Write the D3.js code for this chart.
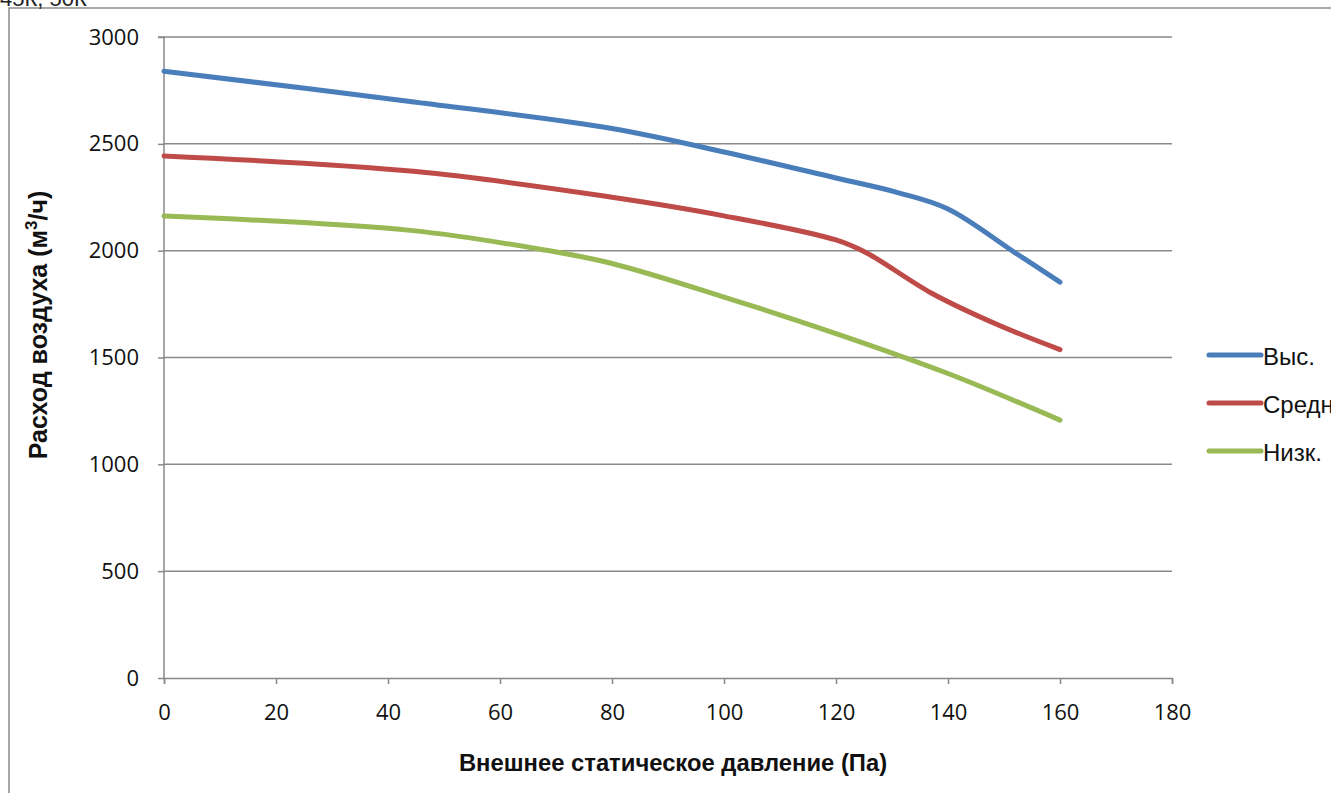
<!DOCTYPE html>
<html><head><meta charset="utf-8">
<script src="https://cdn.jsdelivr.net/npm/d3@7"></script>
<style>
html,body{margin:0;padding:0;background:#fff;overflow:hidden;}
svg{display:block;}
</style></head>
<body>
<svg id="chart" width="1331" height="793"></svg>
<script>
const seriesNames = ["Выс.", "Средн.", "Низк."];
const seriesColors = ["#4a7ebb", "#be4b48", "#98b954"];
const highPressure = [0, 45, 80, 100, 120, 131, 140, 152, 160];
const highFlow = [2840, 2695, 2572, 2462, 2340, 2272, 2195, 1990, 1853];
const midPressure = [0, 45, 80, 100, 120, 125.5, 137, 149, 160];
const midFlow = [2443, 2370, 2250, 2163, 2050, 1989, 1802, 1652, 1537];
const lowPressure = [0, 44, 68, 80, 100, 120, 140, 160];
const lowFlow = [2162, 2095, 2003, 1940, 1783, 1612, 1425, 1207];
const xTicks = [0, 20, 40, 60, 80, 100, 120, 140, 160, 180];
const yTicks = [0, 500, 1000, 1500, 2000, 2500, 3000];
const headerText = "45К, 50К";
const xTitle = "Внешнее статическое давление (Па)";
const yTitleMain = "Расход воздуха (м";
const yTitleSup = "3";
const yTitleEnd = "/ч)";

const svg = d3.select("#chart");
const x = d3.scaleLinear().domain([0, 180]).range([164, 1172]);
const y = d3.scaleLinear().domain([0, 3000]).range([678, 37]);
const gridColor = "#898989";
const tickFont = "'Open Sans', 'Liberation Sans', Arial, sans-serif";
const titleFont = "'Liberation Sans', Arial, sans-serif";

// outer chart border
svg.append("rect").attr("x", 9).attr("y", 8).attr("width", 1400).attr("height", 900)
  .attr("fill", "none").attr("stroke", "#8c8c8c").attr("stroke-width", 1.5);

svg.append("text").attr("x", 0).attr("y", 6).text(headerText)
  .attr("font-family", titleFont).attr("font-size", 22).attr("fill", "#222");

// gridlines
svg.append("g").selectAll("line").data(yTicks.filter(d => d > 0)).join("line")
  .attr("x1", x(0)).attr("x2", x(180)).attr("y1", d => y(d)).attr("y2", d => y(d))
  .attr("stroke", gridColor).attr("stroke-width", 1.5);

// axes
const xAxis = d3.axisBottom(x).tickValues(xTicks).tickSize(6).tickPadding(8).tickFormat(d3.format("d"));
const gx = svg.append("g").attr("transform", `translate(0,${y(0)})`).call(xAxis);
const yAxis = d3.axisLeft(y).tickValues(yTicks).tickSize(6).tickPadding(19).tickFormat(d3.format("d"));
const gy = svg.append("g").attr("transform", `translate(${x(0)},0)`).call(yAxis);
[gx, gy].forEach(g => {
  g.select(".domain").attr("stroke", gridColor).attr("stroke-width", 1.5);
  g.selectAll(".tick line").attr("stroke", gridColor).attr("stroke-width", 1.5);
  g.selectAll(".tick text").attr("font-family", tickFont).attr("font-size", 22).attr("fill", "#111");
});
gx.selectAll(".tick text").attr("y", 42).attr("dy", null);
gy.select(".domain").attr("d", `M-6,${y(3000)}H0V${y(0)}`);

// titles
svg.append("text").attr("x", 673).attr("y", 771).attr("text-anchor", "middle")
  .attr("font-family", titleFont).attr("font-size", 23.8).attr("font-weight", "bold").attr("fill", "#111").text(xTitle);
const yt = svg.append("text").attr("transform", "translate(47,325) rotate(-90)").attr("text-anchor", "middle")
  .attr("font-family", titleFont).attr("font-size", 25).attr("font-weight", "bold").attr("fill", "#111");
yt.append("tspan").text(yTitleMain);
yt.append("tspan").text(yTitleSup).attr("font-size", 17).attr("dy", -10);
yt.append("tspan").text(yTitleEnd).attr("dy", 10);

// series
const series = [
  {name: seriesNames[0], color: seriesColors[0], xs: highPressure, ys: highFlow},
  {name: seriesNames[1], color: seriesColors[1], xs: midPressure, ys: midFlow},
  {name: seriesNames[2], color: seriesColors[2], xs: lowPressure, ys: lowFlow}
];
const line = d3.line().x(d => x(d[0])).y(d => y(d[1])).curve(d3.curveCatmullRom.alpha(0.5));
series.forEach(s => {
  svg.append("path").datum(s.xs.map((v, i) => [v, s.ys[i]]))
    .attr("d", line).attr("fill", "none").attr("stroke", s.color)
    .attr("stroke-width", 5).attr("stroke-linecap", "round").attr("stroke-linejoin", "round");
});

// legend
const leg = svg.append("g");
series.forEach((s, i) => {
  const ly = 355 + i * 48;
  leg.append("line").attr("x1", 1209).attr("x2", 1261).attr("y1", ly).attr("y2", ly)
    .attr("stroke", s.color).attr("stroke-width", 5).attr("stroke-linecap", "round");
  leg.append("text").attr("x", 1263).attr("y", ly + 10).text(s.name)
    .attr("font-family", titleFont).attr("font-size", 24).attr("fill", "#111");
});
</script>
</body></html>
